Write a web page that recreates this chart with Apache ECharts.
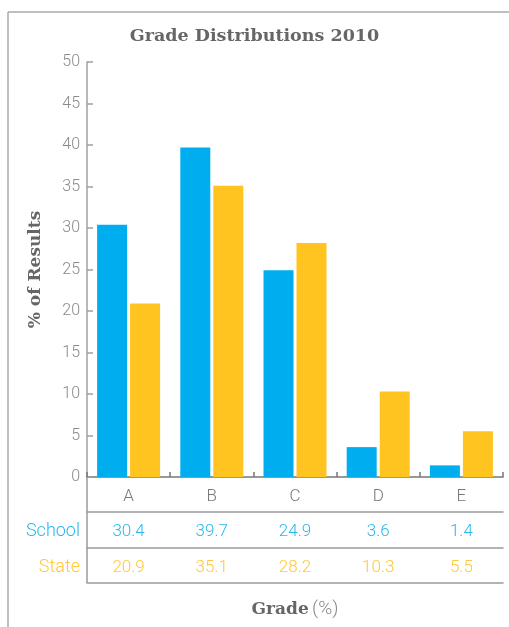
<!DOCTYPE html>
<html>
<head>
<meta charset="utf-8">
<script src="https://cdn.jsdelivr.net/npm/echarts@6/dist/echarts.min.js"></script>
<style>html,body{margin:0;padding:0;background:#fff;}#c{width:509px;height:627px;}</style>
</head>
<body>
<div id="c"></div>
<script>
const categories = ['A', 'B', 'C', 'D', 'E'];
const schoolValues = [30.4, 39.7, 24.9, 3.6, 1.4];
const stateValues = [20.9, 35.1, 28.2, 10.3, 5.5];
const seriesNames = ['School', 'State'];
const titleText = 'Grade Distributions 2010';
const yAxisName = '% of Results';

const BLUE = '#00aeef';
const YELLOW = '#ffc41f';
const LIGHT_FONT = 'Roboto';
const BOLD_FONT = 'DejaVu Serif';

const chart = echarts.init(document.getElementById('c'), null, {renderer: 'canvas'});

function tableAxis(offset, data, color, showLabel) {
  return {
    type: 'category', position: 'bottom', offset: offset, data: data,
    axisLine: {show: true, lineStyle: {color: '#9a9a9a', width: 1.5}},
    axisTick: {show: false},
    axisLabel: {show: showLabel, color: color, fontFamily: LIGHT_FONT, fontWeight: 300, fontSize: 17, margin: 11}
  };
}

const option = {
  animation: false,
  title: {
    text: titleText, left: 'center', top: 22,
    textStyle: {fontFamily: BOLD_FONT, fontWeight: 'bold', fontSize: 17.5, color: '#666'}
  },
  grid: {left: 87, right: 6, top: 62, bottom: 150},
  yAxis: {
    type: 'value', min: 0, max: 50, interval: 5,
    name: yAxisName, nameLocation: 'middle', nameRotate: 90, nameGap: 43,
    nameTextStyle: {fontFamily: BOLD_FONT, fontWeight: 'bold', fontSize: 17, color: '#666'},
    axisLine: {show: true, lineStyle: {color: '#a0a0a0', width: 1.5}},
    axisTick: {show: true, inside: true, length: 6, lineStyle: {color: '#a0a0a0', width: 1.5}},
    axisLabel: {color: '#8a8a8a', fontFamily: LIGHT_FONT, fontWeight: 300, fontSize: 16, margin: 7},
    splitLine: {show: false}
  },
  xAxis: [
    {
      type: 'category', position: 'bottom', data: categories,
      axisLine: {show: true, lineStyle: {color: '#777', width: 1.5}},
      axisTick: {show: true, inside: true, length: 5, lineStyle: {color: '#777', width: 1.5}},
      axisLabel: {color: '#777', fontFamily: LIGHT_FONT, fontWeight: 300, fontSize: 17, margin: 11}
    },
    tableAxis(35, schoolValues.map(v => v.toFixed(1)), '#29b8ec', true),
    tableAxis(71, stateValues.map(v => v.toFixed(1)), '#ffc83a', true),
    Object.assign(tableAxis(106, categories, '#777', false), {
      name: '{b|Grade} {l|(%)}', nameLocation: 'middle', nameGap: 17,
      nameTextStyle: {rich: {
        b: {fontFamily: BOLD_FONT, fontWeight: 'bold', fontSize: 17, color: '#666'},
        l: {fontFamily: LIGHT_FONT, fontWeight: 300, fontSize: 19, color: '#8a8a8a'}
      }}
    })
  ],
  series: [
    {name: seriesNames[0], type: 'bar', xAxisIndex: 0, data: schoolValues, barWidth: 30, barGap: '10%', itemStyle: {color: BLUE}},
    {name: seriesNames[1], type: 'bar', xAxisIndex: 0, data: stateValues, barWidth: 30, barGap: '10%', itemStyle: {color: YELLOW}}
  ],
  graphic: [
    {type: 'line', shape: {x1: 8, y1: 12, x2: 8, y2: 627}, style: {stroke: '#aaa', lineWidth: 1.5}},
    {type: 'line', shape: {x1: 8, y1: 12, x2: 509, y2: 12}, style: {stroke: '#aaa', lineWidth: 1.5}},
    {type: 'line', shape: {x1: 87, y1: 477, x2: 87, y2: 583}, style: {stroke: '#9a9a9a', lineWidth: 1.5}},
    {type: 'text', x: 80, y: 531, style: {text: seriesNames[0], align: 'right', verticalAlign: 'middle', fill: '#29b8ec', font: '300 18px ' + LIGHT_FONT}},
    {type: 'text', x: 80, y: 567, style: {text: seriesNames[1], align: 'right', verticalAlign: 'middle', fill: '#ffc83a', font: '300 18px ' + LIGHT_FONT}}
  ]
};
chart.setOption(option);
</script>
</body>
</html>
